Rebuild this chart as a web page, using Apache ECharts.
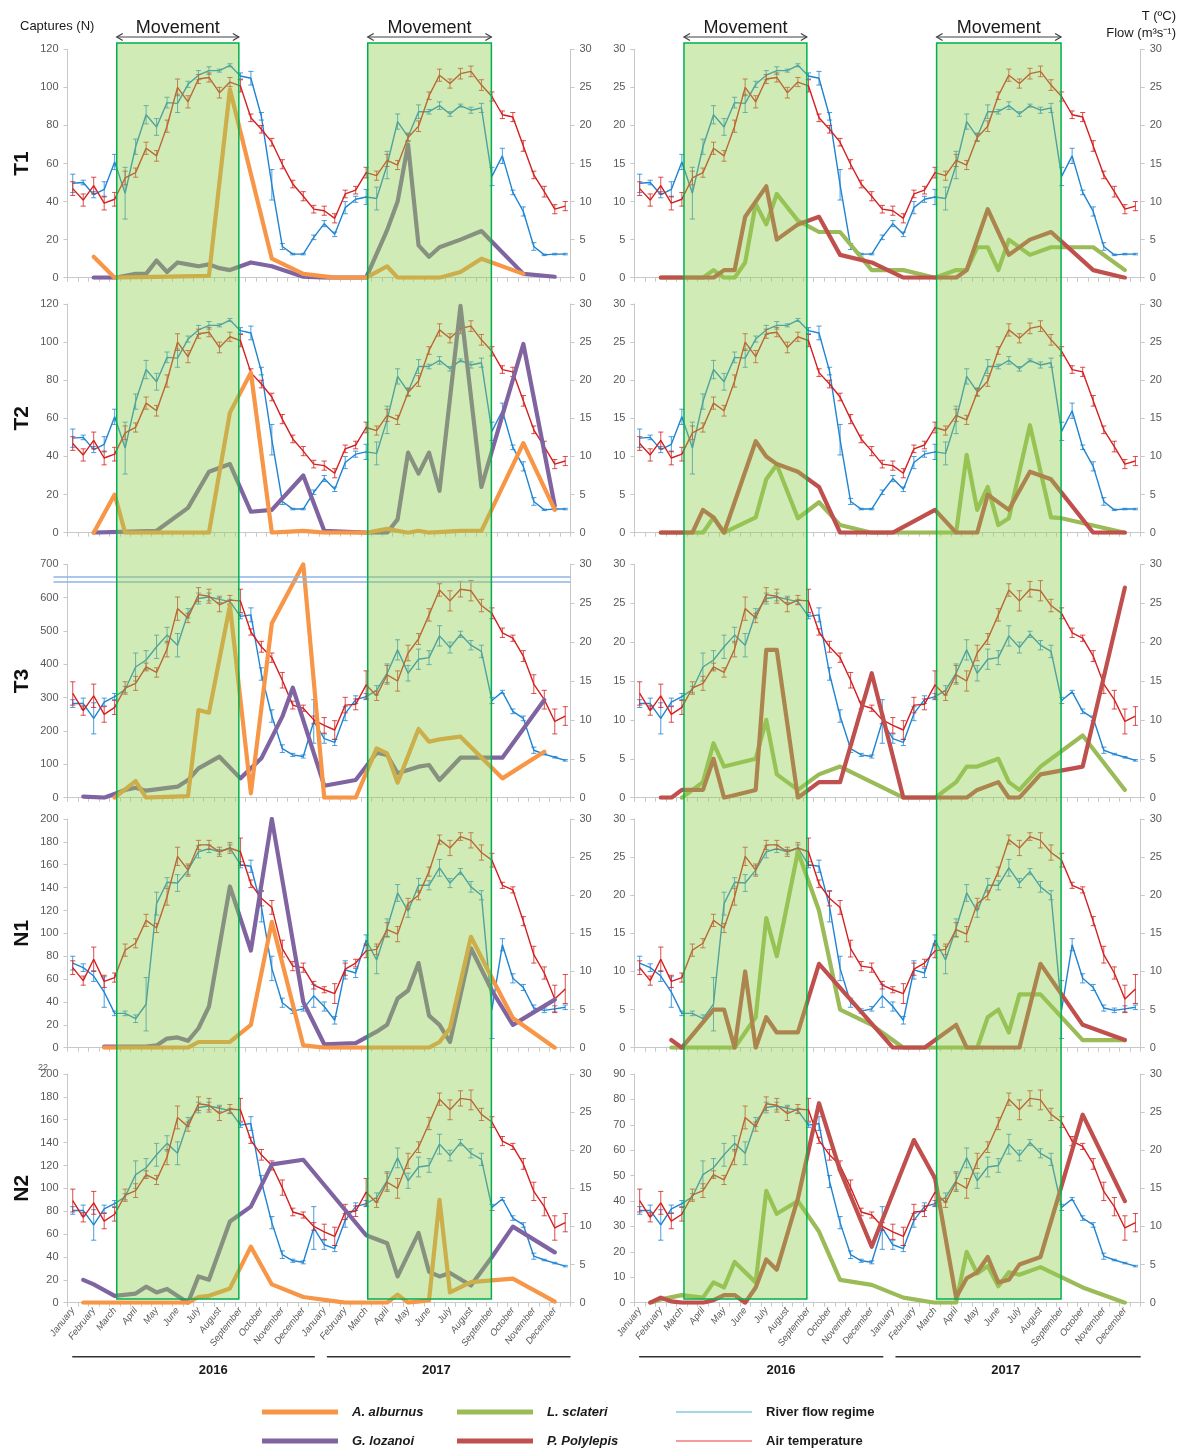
<!DOCTYPE html>
<html>
<head>
<meta charset="utf-8">
<title>Captures, air temperature and river flow 2016-2017</title>
<script src="https://cdn.jsdelivr.net/npm/echarts/dist/echarts.min.js"></script>
<style>
  html, body { margin: 0; padding: 0; background: #fff; }
  #chart { width: 1189px; height: 1452px; }
</style>
</head>
<body>
<div id="chart"></div>
<script>
// ---------------------------------------------------------------------------
// Data: two samplings per month, January 2016 - December 2017 (48 slots)
// ---------------------------------------------------------------------------
const YEARS = ['2016', '2017'];
const MONTHS = ['January', 'February', 'March', 'April', 'May', 'June', 'July',
  'August', 'September', 'October', 'November', 'December'];

// Movement periods, in half-month slots from 1 January 2016
const MOVEMENT = [[4.7, 16.35], [28.65, 40.45]];

// Air temperature (ºC) and river flow (m3/s), mean and error, per station
const TEMP_A = [11.7, 10.2, 12.1, 9.8, 10.3, 13.1, 13.8, 17.0, 16.0, 19.9, 25.0, 23.1, 26.1, 26.3, 24.3, 25.7,
  25.2, 21.0, 19.5, 17.8, 14.9, 12.3, 10.7, 9.0, 8.8, 7.8, 11.0, 11.5, 13.8, 13.4, 15.4, 14.8,
  18.4, 19.9, 23.9, 26.6, 25.5, 26.8, 27.1, 25.3, 23.8, 21.4, 21.1, 17.3, 13.5, 11.3, 9.0, 9.4];
const TEMP_ERR_A = [0.9, 0.8, 1.1, 0.9, 0.9, 0.9, 0.6, 0.8, 0.7, 0.8, 1.1, 0.8, 0.6, 0.6, 0.7, 0.6,
  0.8, 0.5, 0.5, 0.5, 0.6, 0.5, 0.6, 0.5, 0.6, 0.6, 0.5, 0.5, 0.7, 0.6, 0.8, 0.6,
  0.5, 0.7, 0.5, 0.8, 0.6, 0.7, 0.7, 0.7, 0.6, 0.5, 0.6, 0.7, 0.5, 0.7, 0.6, 0.6];
const FLOW_A = [12.4, 12.5, 10.9, 11.6, 15.2, 11.1, 17.2, 21.4, 19.8, 23.0, 22.9, 25.4, 26.6, 27.2, 27.2, 27.9,
  26.5, 26.2, 21.2, 12.2, 4.1, 3.1, 3.1, 5.3, 7.1, 5.7, 9.2, 10.3, 10.6, 10.4, 14.8, 20.5,
  18.5, 21.8, 21.8, 22.6, 21.5, 22.6, 22.0, 22.3, 13.3, 16.0, 11.2, 8.7, 4.1, 3.0, 3.1, 3.1];
const FLOW_ERR_A = [1.2, 0.3, 0.4, 1.0, 1.0, 3.4, 1.0, 1.2, 1.1, 0.7, 1.2, 0.4, 0.6, 0.5, 0.2, 0.2,
  0.4, 0.9, 0.5, 2.0, 0.4, 0.1, 0.1, 0.3, 0.4, 0.3, 0.8, 0.4, 1.0, 1.5, 1.8, 1.0,
  0.5, 0.9, 0.3, 0.5, 0.3, 0.2, 0.4, 0.6, 1.2, 1.0, 0.3, 0.6, 0.5, 0.1, 0.1, 0.1];

const TEMP_B = [13.4, 11.2, 13.1, 10.7, 11.6, 14.1, 14.7, 16.8, 16.1, 19.1, 24.3, 23.1, 26.1, 25.9, 24.8, 25.4,
  25.3, 21.3, 19.4, 18.0, 15.1, 11.9, 11.5, 10.0, 9.3, 8.7, 11.9, 12.0, 14.5, 13.1, 15.8, 15.0,
  18.6, 20.4, 23.5, 26.7, 25.3, 26.8, 26.6, 24.7, 23.7, 21.2, 20.5, 18.2, 14.6, 12.6, 9.8, 10.5];
const TEMP_ERR_B = [1.5, 0.6, 1.5, 1.0, 0.9, 0.8, 0.9, 0.5, 0.6, 1.0, 1.5, 0.6, 0.9, 0.9, 0.9, 0.6,
  1.5, 0.4, 0.7, 0.6, 1.0, 0.5, 0.4, 0.5, 1.0, 1.2, 1.0, 0.7, 1.8, 0.6, 1.2, 1.3,
  1.0, 0.7, 0.8, 0.8, 1.3, 1.0, 1.3, 0.8, 0.7, 0.6, 0.4, 0.7, 1.2, 1.2, 1.6, 1.2];
const FLOW_B = [12.1, 12.1, 10.2, 12.3, 13.0, 13.9, 16.8, 17.7, 19.4, 20.9, 19.6, 23.7, 25.6, 25.8, 25.5, 25.2,
  23.3, 23.5, 15.9, 10.5, 6.3, 5.5, 5.3, 9.8, 7.6, 7.1, 10.8, 12.6, 13.0, 13.8, 16.0, 19.0,
  16.0, 17.8, 18.0, 20.8, 19.3, 21.0, 19.6, 18.8, 12.5, 13.6, 11.1, 10.2, 6.1, 5.6, 5.2, 4.8];
const FLOW_ERR_B = [0.5, 0.7, 2.0, 0.5, 0.4, 0.4, 1.8, 1.2, 1.5, 1.0, 1.5, 0.6, 0.7, 0.5, 0.4, 0.3,
  0.3, 0.9, 0.8, 0.8, 0.5, 0.2, 0.2, 2.8, 0.6, 0.4, 0.9, 0.5, 0.4, 0.6, 1.2, 1.3,
  1.0, 1.3, 0.9, 1.3, 0.7, 0.4, 0.6, 0.8, 0.4, 0.2, 0.3, 0.3, 0.4, 0.1, 0.1, 0.1];

const TEMP_C = [10.5, 8.8, 11.6, 8.7, 9.2, 12.8, 13.7, 16.7, 15.7, 19.8, 25.1, 23.3, 26.6, 26.6, 25.7, 26.2,
  25.7, 21.5, 19.6, 18.4, 13.0, 10.7, 10.5, 8.2, 7.6, 7.1, 10.3, 11.1, 12.7, 12.9, 15.5, 14.9,
  18.9, 20.0, 23.1, 27.3, 26.2, 27.7, 27.2, 25.6, 24.6, 21.3, 20.7, 16.6, 12.2, 9.8, 6.4, 7.7];
const TEMP_ERR_C = [0.9, 0.6, 1.6, 0.8, 0.6, 0.8, 0.6, 0.8, 0.6, 1.1, 1.2, 0.8, 0.6, 0.6, 0.6, 0.7,
  1.8, 0.5, 1.0, 0.9, 1.1, 0.6, 0.6, 0.5, 0.4, 1.3, 0.8, 0.5, 0.9, 0.7, 0.9, 1.0,
  0.7, 0.6, 0.6, 0.6, 1.0, 0.5, 1.0, 1.0, 0.9, 0.4, 0.4, 0.6, 1.1, 0.8, 1.8, 1.9];
const FLOW_C = [11.1, 10.5, 9.4, 7.3, 4.5, 4.5, 3.8, 5.7, 18.9, 21.7, 21.6, 23.3, 25.7, 26.1, 25.7, 26.2,
  24.0, 23.8, 18.5, 10.4, 5.9, 4.8, 5.1, 6.8, 5.4, 3.6, 10.2, 9.8, 14.1, 11.5, 15.7, 20.3,
  17.9, 21.3, 21.3, 23.6, 21.6, 23.1, 21.1, 20.0, 5.0, 13.5, 9.1, 7.9, 5.2, 4.9, 5.1, 5.3];
const FLOW_ERR_C = [0.9, 0.5, 0.7, 2.0, 0.3, 0.3, 0.5, 3.5, 1.5, 0.6, 1.1, 0.6, 0.8, 0.5, 0.3, 0.4,
  0.4, 0.8, 2.0, 1.6, 0.6, 0.3, 0.3, 1.5, 0.6, 0.5, 1.2, 0.6, 0.7, 1.8, 1.2, 1.1,
  0.8, 0.9, 0.6, 1.1, 0.6, 0.4, 0.7, 0.6, 3.8, 0.8, 0.6, 0.4, 0.4, 0.3, 0.4, 0.3];

// Captures (N): [half-month slot, count]
const T1_ALBURNUS = [[2, 11], [4, 0], [13, 1], [15, 99], [19, 10], [22, 2], [25, 0], [28, 0], [30, 6], [31, 0],
  [35, 0], [37, 3], [39, 10], [43, 2]];
const T1_LOZANOI = [[2, 0], [4, 0], [6, 2], [7, 2], [8, 9], [9, 3], [10, 8], [11, 7], [12, 6], [13, 7], [14, 5],
  [15, 4], [17, 8], [19, 6], [22, 0.5], [24, 0], [28, 0], [30, 25], [31, 40], [32, 70], [33, 17], [34, 11],
  [35, 16], [37, 20], [39, 24.5], [43, 2], [46, 0.5]];
const T1_SCLATERI = [[2, 0], [6, 0], [7, 1], [8, 0], [9, 0], [10, 2], [11, 9.7], [12, 7], [13, 11], [15, 7.5],
  [17, 6], [19, 6], [22, 1], [25, 1], [28, 0], [30, 1], [31, 1], [32, 4], [33, 4], [34, 1], [35, 5], [37, 3],
  [39, 4], [40, 4], [43, 4], [46, 1]];
const T1_POLYLEPIS = [[2, 0], [7, 0], [8, 1], [9, 1], [10, 8], [12, 12], [13, 5], [15, 7], [17, 8], [19, 3],
  [22, 2], [25, 0], [28, 0], [30, 0], [31, 1], [33, 9], [35, 3], [37, 5], [39, 6], [43, 1], [46, 0]];

const T2_ALBURNUS = [[2, 0], [4, 20], [5, 0], [13, 0], [15, 63], [17, 84], [19, 0], [22, 1], [24, 0], [28, 0],
  [30, 2], [32, 0], [33, 1], [34, 0], [37, 1], [39, 1], [43, 47], [46, 12]];
const T2_LOZANOI = [[2, 0], [8, 1], [11, 13], [13, 32], [15, 36], [17, 11], [19, 12], [22, 30], [24, 1], [28, 0],
  [30, 0], [31, 7], [32, 42], [33, 31], [34, 42], [35, 22], [37, 119], [39, 24], [43, 99], [46, 14]];
const T2_SCLATERI = [[2, 0], [6, 0], [7, 2], [8, 0], [11, 2], [12, 7], [13, 8.9], [15, 1.9], [17, 4], [19, 1],
  [22, 0], [25, 0], [30, 0], [31, 10.2], [32, 3], [33, 6], [34, 1], [35, 1.9], [37, 14.1], [39, 2], [40, 1.9],
  [46, 0]];
const T2_POLYLEPIS = [[2, 0], [5, 0], [6, 3], [7, 2], [8, 0], [11, 12], [12, 10], [13, 9], [15, 8], [17, 6],
  [19, 0], [24, 0], [28, 3], [30, 0], [32, 0], [33, 5], [35, 3], [37, 8], [39, 7], [43, 0], [46, 0]];

const T3_ALBURNUS = [[4, 0], [6, 50], [7, 0], [11, 5], [12, 263], [13, 255], [15, 576], [17, 13], [19, 523],
  [22, 2212], [24, 0], [27, 0], [29, 148], [30, 133], [31, 45], [33, 206], [34, 168], [35, 175], [37, 183],
  [41, 58], [45, 138]];
const T3_LOZANOI = [[1, 3], [3, 0], [5, 23], [6, 30], [7, 21], [10, 33], [11, 53], [12, 88], [14, 123], [16, 58],
  [18, 118], [20, 243], [21, 330], [24, 36], [27, 53], [29, 135], [30, 128], [31, 73], [33, 93], [34, 98],
  [35, 53], [37, 120], [41, 120], [45, 293]];
const T3_SCLATERI = [[4, 0], [6, 2], [7, 7], [8, 4], [11, 5], [12, 10], [13, 3], [15, 1], [17, 3], [19, 4],
  [25, 0], [28, 0], [30, 2], [31, 4], [32, 4], [34, 5], [35, 2], [36, 1], [38, 4], [42, 8], [46, 1]];
const T3_POLYLEPIS = [[2, 0], [3, 0], [4, 1], [6, 1], [7, 5], [8, 0], [11, 1], [12, 19], [13, 19], [15, 0],
  [17, 2], [19, 2], [22, 16], [25, 0], [28, 0], [31, 0], [32, 1], [34, 2], [35, 0], [36, 0], [38, 3], [42, 4],
  [46, 27]];

const N1_ALBURNUS = [[3, 0], [11, 0], [12, 5], [15, 5], [17, 20], [19, 110], [22, 2], [24, 0], [34, 0], [35, 5],
  [36, 17], [38, 97], [40, 61], [42, 26], [46, 0]];
const N1_LOZANOI = [[3, 1], [7, 1], [8, 2], [9, 8], [10, 9], [11, 6], [12, 17], [13, 36], [15, 141], [17, 85],
  [19, 200], [22, 40], [24, 3], [27, 4], [29, 14], [30, 20], [31, 43], [32, 50], [33, 74], [34, 28], [35, 20],
  [36, 5], [38, 87], [40, 50], [42, 20], [46, 42]];
const N1_SCLATERI = [[3, 0], [9, 0], [11, 4], [12, 17], [13, 12], [15, 25.7], [17, 18], [19, 5], [22, 3], [25, 0],
  [32, 0], [33, 4], [34, 5], [35, 2], [36, 7], [38, 7], [42, 1], [46, 1]];
const N1_POLYLEPIS = [[3, 1], [4, 0], [7, 5], [8, 5], [9, 0], [10, 10], [11, 0], [12, 4], [13, 2], [15, 2],
  [17, 11], [24, 0], [27, 0], [30, 3], [31, 0], [36, 0], [38, 11], [42, 3], [46, 1]];

const N2_ALBURNUS = [[1, 0], [11, 0], [12, 5], [13, 6], [15, 12.5], [17, 49], [19, 16], [22, 5], [26, 0], [30, 0],
  [31, 7], [32, 0], [34, 2], [35, 90], [36, 9], [38, 18], [42, 21], [46, 1]];
const N2_LOZANOI = [[1, 20], [2, 16], [4, 6], [6, 8], [7, 14], [8, 9], [9, 12], [11, 0], [12, 23], [13, 20],
  [15, 71], [17, 84], [19, 121], [22, 125], [28, 59], [30, 52], [31, 23], [33, 61], [34, 27], [35, 23], [36, 26],
  [38, 15], [40, 40], [42, 66.5], [46, 44]];
const N2_SCLATERI = [[1, 0], [2, 1.3], [4, 3], [6, 2], [7, 8], [8, 6], [9, 16], [11, 8], [12, 44], [13, 35],
  [15, 40], [17, 28], [19, 9], [22, 7], [25, 2], [28, 0], [30, 0], [31, 20], [32, 11.5], [33, 14.4], [34, 6.5],
  [35, 12], [36, 11], [38, 14], [42, 6], [46, 0]];
const N2_POLYLEPIS = [[1, 0], [2, 2], [3, 0.5], [4, 0], [6, 0], [7, 1], [8, 3], [9, 3], [10, 0], [11, 6], [12, 17],
  [13, 13], [15, 41], [17, 78.5], [19, 52], [22, 22], [26, 64], [28, 49], [30, 2], [31, 9.6], [32, 12], [33, 18],
  [34, 8], [35, 9], [36, 15], [38, 18], [42, 74], [46, 40]];

// Axis-break marks on the T3 captures axis
const T3_BREAK_MARKS = [662, 647];

// ---------------------------------------------------------------------------
// Styling and layout
// ---------------------------------------------------------------------------
const FONT = '"Liberation Sans", Arial, sans-serif';
const AXIS_GREY = '#c8c8c8';
const LABEL_GREY = '#595959';
const COLORS = {
  'A. alburnus': '#f79646',
  'G. lozanoi': '#8064a2',
  'L. sclateri': '#9bbb59',
  'P. Polylepis': '#c0504d',
  flow: '#1f84d2',
  temp: '#d41f1f'
};

const ENV = {
  A: { temp: TEMP_A, tempErr: TEMP_ERR_A, flow: FLOW_A, flowErr: FLOW_ERR_A },
  B: { temp: TEMP_B, tempErr: TEMP_ERR_B, flow: FLOW_B, flowErr: FLOW_ERR_B },
  C: { temp: TEMP_C, tempErr: TEMP_ERR_C, flow: FLOW_C, flowErr: FLOW_ERR_C }
};

const PANELS = [
  { name: 'T1', row: 0, col: 0, yMax: 120, yStep: 20, env: 'A', species: [['G. lozanoi', T1_LOZANOI], ['A. alburnus', T1_ALBURNUS]] },
  { name: 'T1', row: 0, col: 1, yMax: 30, yStep: 5, env: 'A', species: [['L. sclateri', T1_SCLATERI], ['P. Polylepis', T1_POLYLEPIS]] },
  { name: 'T2', row: 1, col: 0, yMax: 120, yStep: 20, env: 'A', species: [['G. lozanoi', T2_LOZANOI], ['A. alburnus', T2_ALBURNUS]] },
  { name: 'T2', row: 1, col: 1, yMax: 30, yStep: 5, env: 'A', species: [['L. sclateri', T2_SCLATERI], ['P. Polylepis', T2_POLYLEPIS]] },
  { name: 'T3', row: 2, col: 0, yMax: 700, yStep: 100, env: 'B', breakMarks: T3_BREAK_MARKS, species: [['G. lozanoi', T3_LOZANOI], ['A. alburnus', T3_ALBURNUS]] },
  { name: 'T3', row: 2, col: 1, yMax: 30, yStep: 5, env: 'B', species: [['L. sclateri', T3_SCLATERI], ['P. Polylepis', T3_POLYLEPIS]] },
  { name: 'N1', row: 3, col: 0, yMax: 200, yStep: 20, env: 'C', species: [['G. lozanoi', N1_LOZANOI], ['A. alburnus', N1_ALBURNUS]] },
  { name: 'N1', row: 3, col: 1, yMax: 30, yStep: 5, env: 'C', species: [['L. sclateri', N1_SCLATERI], ['P. Polylepis', N1_POLYLEPIS]] },
  { name: 'N2', row: 4, col: 0, yMax: 200, yStep: 20, env: 'B', species: [['G. lozanoi', N2_LOZANOI], ['A. alburnus', N2_ALBURNUS]] },
  { name: 'N2', row: 4, col: 1, yMax: 90, yStep: 10, env: 'B', species: [['L. sclateri', N2_SCLATERI], ['P. Polylepis', N2_POLYLEPIS]] }
];

const COL_LEFT = [67.5, 634.4];
const COL_WIDTH = [503, 506.3];
const ROW_TOP = [49.3, 304, 564.3, 819, 1074];
const ROW_HEIGHT = [228.4, 228.7, 233.4, 228.7, 228.7];

// Half-month categories
const CATS = [];
YEARS.forEach(y => MONTHS.forEach(m => { CATS.push(m + ' ' + y + ' (1)'); CATS.push(m + ' ' + y + ' (2)'); }));

// Vertical error bar with caps
function errorBar(color) {
  return function (params, api) {
    const x = api.value(0), v = api.value(1), e = api.value(2);
    const top = api.coord([x, v + e]);
    const bot = api.coord([x, Math.max(0, v - e)]);
    const w = 2.6;
    const st = { stroke: color, lineWidth: 1, opacity: 0.8 };
    return {
      type: 'group',
      children: [
        { type: 'line', shape: { x1: top[0], y1: top[1], x2: bot[0], y2: bot[1] }, style: st },
        { type: 'line', shape: { x1: top[0] - w, y1: top[1], x2: top[0] + w, y2: top[1] }, style: st },
        { type: 'line', shape: { x1: bot[0] - w, y1: bot[1], x2: bot[0] + w, y2: bot[1] }, style: st }
      ]
    };
  };
}

const grid = [], xAxis = [], yAxis = [], series = [];

PANELS.forEach((p, i) => {
  const bottomRow = p.row === 4;
  grid.push({
    left: COL_LEFT[p.col], top: ROW_TOP[p.row],
    width: COL_WIDTH[p.col], height: ROW_HEIGHT[p.row],
    containLabel: false
  });
  xAxis.push({
    type: 'category', gridIndex: i, data: CATS, boundaryGap: true,
    axisLine: { lineStyle: { color: AXIS_GREY, width: 1 } },
    axisTick: { show: true, interval: 0, length: 4, lineStyle: { color: AXIS_GREY } },
    axisLabel: {
      show: bottomRow, interval: 1, rotate: 52, margin: 6,
      fontFamily: FONT, fontSize: 9.5, fontStyle: 'italic', color: LABEL_GREY,
      formatter: (v, idx) => MONTHS[Math.floor(idx / 2) % 12]
    },
    splitLine: { show: false }
  });
  const axisCommon = {
    type: 'value', gridIndex: i, min: 0,
    axisLine: { show: true, lineStyle: { color: AXIS_GREY } },
    axisTick: { show: true, length: 4, lineStyle: { color: AXIS_GREY } },
    axisLabel: { fontFamily: FONT, fontSize: 11, color: LABEL_GREY, margin: 9 },
    splitLine: { show: false }
  };
  yAxis.push(Object.assign({}, axisCommon, { position: 'left', max: p.yMax, interval: p.yStep }));
  yAxis.push(Object.assign({}, axisCommon, { position: 'right', max: 30, interval: 5 }));

  const env = ENV[p.env];
  const yLeft = 2 * i, yRight = 2 * i + 1;

  // River flow regime
  series.push({
    name: 'River flow regime', type: 'line', xAxisIndex: i, yAxisIndex: yRight,
    data: env.flow, symbol: 'none', z: 2,
    lineStyle: { color: COLORS.flow, width: 1.4 }, itemStyle: { color: COLORS.flow }
  });
  series.push({
    type: 'custom', xAxisIndex: i, yAxisIndex: yRight, z: 2, silent: true,
    renderItem: errorBar(COLORS.flow), encode: { x: 0, y: 1 },
    data: env.flow.map((v, k) => [k, v, env.flowErr[k]])
  });
  // Air temperature
  series.push({
    name: 'Air temperature', type: 'line', xAxisIndex: i, yAxisIndex: yRight,
    data: env.temp, symbol: 'none', z: 3,
    lineStyle: { color: COLORS.temp, width: 1.4 }, itemStyle: { color: COLORS.temp }
  });
  series.push({
    type: 'custom', xAxisIndex: i, yAxisIndex: yRight, z: 3, silent: true,
    renderItem: errorBar(COLORS.temp), encode: { x: 0, y: 1 },
    data: env.temp.map((v, k) => [k, v, env.tempErr[k]])
  });

  // Captures; counts above the axis ceiling sit on the break and carry their value as a label
  p.species.forEach(([name, pts]) => {
    const data = pts.map(([k, v]) => v > p.yMax
      ? {
          value: [k, p.yMax],
          label: {
            show: true, formatter: '*' + v, position: 'right', distance: 1, offset: [0, -1],
            fontFamily: FONT, fontSize: 11, fontWeight: 'bold', color: '#222'
          }
        }
      : [k, v]);
    series.push({
      name, type: 'line', xAxisIndex: i, yAxisIndex: yLeft, data,
      symbol: 'none', z: 5, connectNulls: true,
      lineStyle: { color: COLORS[name], width: 4.2, cap: 'round', join: 'round' },
      itemStyle: { color: COLORS[name] },
      label: { show: false }
    });
  });
});

const chart = echarts.init(document.getElementById('chart'), null, { renderer: 'canvas' });
chart.setOption({
  animation: false,
  backgroundColor: '#ffffff',
  textStyle: { fontFamily: FONT },
  grid, xAxis, yAxis, series
});

// ---------------------------------------------------------------------------
// Overlays placed through the axes: movement windows, years, labels, legend
// ---------------------------------------------------------------------------
function slotX(panelIndex, slot) {
  const c0 = chart.convertToPixel({ xAxisIndex: panelIndex }, 0);
  const c1 = chart.convertToPixel({ xAxisIndex: panelIndex }, 1);
  return c0 + (slot - 0.5) * (c1 - c0);
}
const boxTop = chart.convertToPixel({ yAxisIndex: 0 }, 120) - 6.3;
const boxBottom = chart.convertToPixel({ yAxisIndex: 16 }, 0) - 3.7;
const axisBottom = chart.convertToPixel({ yAxisIndex: 16 }, 0);

const graphic = [];
const darkText = '#1a1a1a';

// Double break lines across the T3 captures panel
PANELS.forEach((p, i) => {
  if (!p.breakMarks) return;
  const xRight = slotX(i, 48);
  p.breakMarks.forEach(v => {
    const y = chart.convertToPixel({ yAxisIndex: 2 * i }, v);
    graphic.push({
      type: 'line', z: 40, silent: true,
      shape: { x1: COL_LEFT[p.col] - 14, y1: y, x2: xRight, y2: y },
      style: { stroke: '#8eb4e3', lineWidth: 1.4 }
    });
  });
});

[0, 1].forEach(col => {
  const pi = col; // top panel of the column
  MOVEMENT.forEach(([a, b]) => {
    const x1 = slotX(pi, a), x2 = slotX(pi, b);
    graphic.push({
      type: 'rect', z: 100, silent: true,
      shape: { x: x1, y: boxTop, width: x2 - x1, height: boxBottom - boxTop },
      style: { fill: 'rgba(146,208,80,0.42)', stroke: '#00b050', lineWidth: 1.5 }
    });
    const ay = boxTop - 6;
    const arrowStyle = { stroke: '#404040', lineWidth: 1.2, fill: null };
    graphic.push({ type: 'line', z: 101, shape: { x1: x1, y1: ay, x2: x2, y2: ay }, style: arrowStyle });
    graphic.push({ type: 'polyline', z: 101, shape: { points: [[x1 + 6, ay - 3.5], [x1, ay], [x1 + 6, ay + 3.5]] }, style: arrowStyle });
    graphic.push({ type: 'polyline', z: 101, shape: { points: [[x2 - 6, ay - 3.5], [x2, ay], [x2 - 6, ay + 3.5]] }, style: arrowStyle });
    graphic.push({
      type: 'text', z: 101, x: (x1 + x2) / 2, y: ay - 9,
      style: { text: 'Movement', font: '18px ' + FONT, fill: darkText, align: 'center', verticalAlign: 'middle' }
    });
  });

  // Year brackets under the bottom panel of the column
  const bp = 8 + col;
  const yearSpans = [[0.45, 23.6, 13.9], [24.75, 48, 35.2]];
  yearSpans.forEach(([a, b, t], k) => {
    graphic.push({
      type: 'line', z: 50,
      shape: { x1: slotX(bp, a), y1: axisBottom + 54, x2: slotX(bp, b), y2: axisBottom + 54 },
      style: { stroke: '#333', lineWidth: 1.6 }
    });
    graphic.push({
      type: 'text', z: 50, x: slotX(bp, t), y: axisBottom + 68,
      style: { text: YEARS[k], font: 'bold 13px ' + FONT, fill: darkText, align: 'center', verticalAlign: 'middle' }
    });
  });
});

// Row names
PANELS.filter(p => p.col === 0).forEach(p => {
  graphic.push({
    type: 'text', z: 50, x: 22, y: ROW_TOP[p.row] + ROW_HEIGHT[p.row] / 2, rotation: Math.PI / 2,
    style: { text: p.name, font: 'bold 21px ' + FONT, fill: '#111', align: 'center', verticalAlign: 'middle' }
  });
});

// Axis titles
graphic.push({
  type: 'text', x: 20, y: 26,
  style: { text: 'Captures (N)', font: '13px ' + FONT, fill: darkText, verticalAlign: 'middle' }
});
graphic.push({
  type: 'text', x: 1176, y: 16,
  style: { text: 'T (ºC)', font: '13px ' + FONT, fill: darkText, align: 'right', verticalAlign: 'middle' }
});
graphic.push({
  type: 'text', x: 1176, y: 33,
  style: { text: 'Flow (m³s⁻¹)', font: '13px ' + FONT, fill: darkText, align: 'right', verticalAlign: 'middle' }
});
graphic.push({
  type: 'text', x: 38, y: 1068,
  style: { text: '22', font: '9px ' + FONT, fill: LABEL_GREY, verticalAlign: 'middle' }
});

// Legend
const LEGEND = [
  { name: 'A. alburnus', color: COLORS['A. alburnus'], w: 5, italic: true, x: 262, y: 1412 },
  { name: 'L. sclateri', color: COLORS['L. sclateri'], w: 5, italic: true, x: 457, y: 1412 },
  { name: 'River flow regime', color: '#86c8df', w: 1.5, italic: false, x: 676, y: 1412 },
  { name: 'G. lozanoi', color: COLORS['G. lozanoi'], w: 5, italic: true, x: 262, y: 1441 },
  { name: 'P. Polylepis', color: COLORS['P. Polylepis'], w: 5, italic: true, x: 457, y: 1441 },
  { name: 'Air temperature', color: '#f07a7a', w: 1.5, italic: false, x: 676, y: 1441 }
];
LEGEND.forEach(l => {
  graphic.push({
    type: 'line', shape: { x1: l.x, y1: l.y, x2: l.x + 76, y2: l.y },
    style: { stroke: l.color, lineWidth: l.w }
  });
  graphic.push({
    type: 'text', x: l.x + 90, y: l.y,
    style: {
      text: l.name, font: (l.italic ? 'italic ' : '') + 'bold 13px ' + FONT,
      fill: darkText, verticalAlign: 'middle'
    }
  });
});

chart.setOption({ graphic });
</script>
</body>
</html>
